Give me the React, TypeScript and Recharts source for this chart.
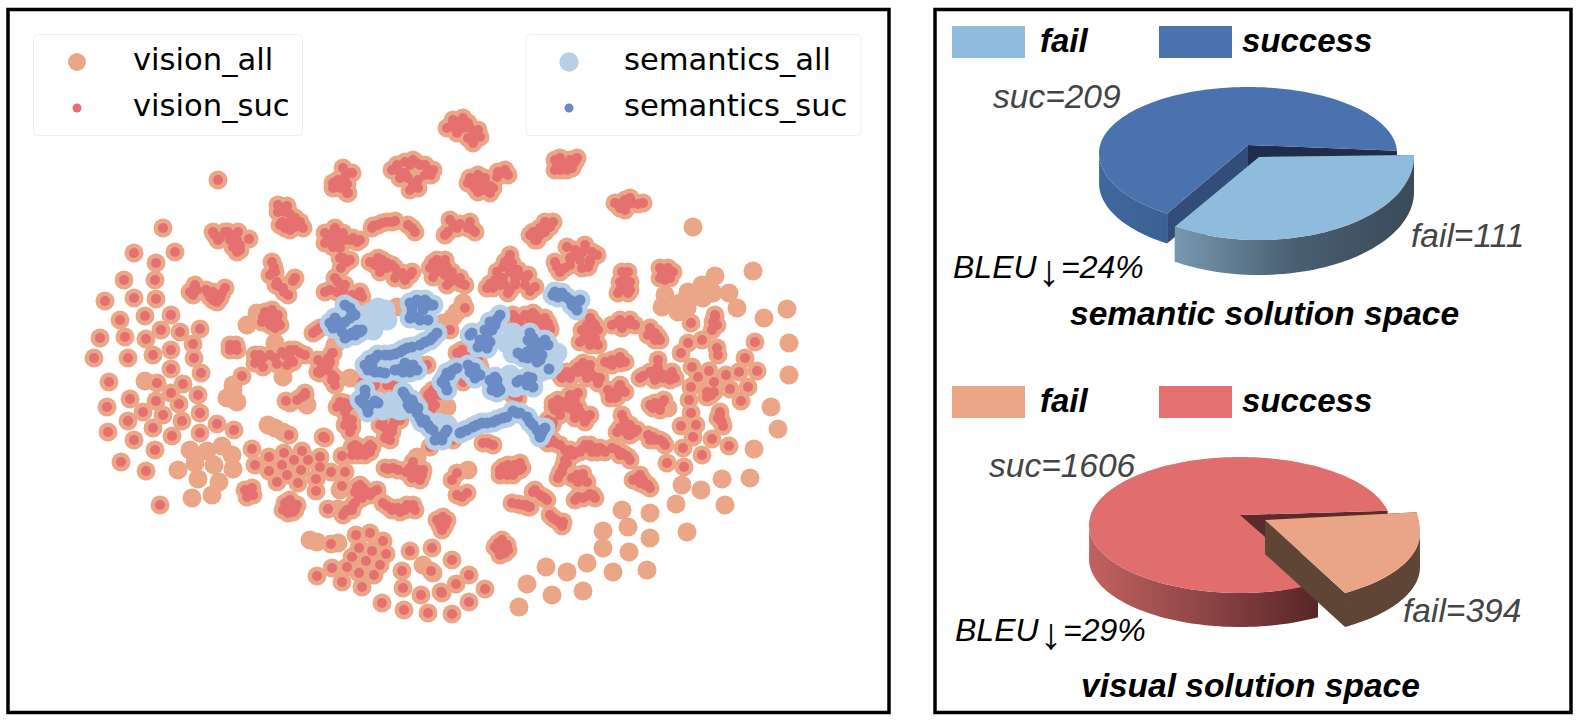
import React from 'react';
import { ScatterChart, Scatter, XAxis, YAxis, PieChart, Pie } from 'recharts';

type Pt = [number, number];

// points that only show the big marker
const visionOnly: Pt[] = [
  [693,227],[715,276],[702,285],[688,292],[713,293],[729,293],[665,295],[662,307],[680,303],[693,297],[678,312],[703,298],[737,308],[687,308],
  [753,271],[787,309],[764,318],[789,343],[145,381],[233,385],[230,398],[237,402],[227,398],[233,390],[190,450],[207,451],[222,446],[232,455],
  [195,463],[214,465],[233,469],[198,479],[219,482],[178,470],[192,498],[212,495],[268,425],[275,428],[283,432],[247,325],[257,313],[283,377],
  [275,343],[310,540],[317,542],[338,543],[423,565],[433,573],[447,407],[457,312],[463,303],[443,323],[453,317],[445,408],[350,378],[307,405],
  [468,470],[668,408],[417,457],[789,375],[771,407],[778,429],[754,449],[750,478],[722,479],[682,485],[701,490],[676,504],[725,505],[687,532],
  [622,510],[650,513],[603,531],[628,527],[650,538],[603,548],[629,552],[647,570],[613,572],[587,563],[567,572],[546,567],[527,584],[552,595],
  [583,591],[519,607],[397,307],[335,345],[300,398],[290,403],[340,490],[338,509],
];

const visionSuc: Pt[] = [
  [218,180],[163,228],[134,253],[175,252],[156,263],[124,280],[155,280],[134,298],[156,299],[105,301],[120,320],[145,316],[171,315],[161,330],
  [180,332],[200,329],[100,338],[125,337],[146,339],[193,344],[171,350],[153,355],[194,358],[128,358],[94,358],
  [347,173],[333,183],[347,184],[347,193],[340,182],[399,171],[410,165],[405,173],[413,183],[428,170],[413,187],[417,163],
  [215,235],[218,240],[234,235],[233,247],[240,250],[249,239],[237,240],[281,208],[285,212],[282,222],[295,218],[285,228],[303,228],[295,227],
  [333,233],[328,238],[338,233],[333,247],[350,240],[357,242],[343,258],[350,260],[341,268],[338,282],[330,290],[343,290],[357,295],[340,240],
  [373,226],[382,223],[387,222],[395,221],[412,228],[375,265],[382,260],[387,263],[392,265],[397,275],[402,273],[410,275],[380,267],
  [433,263],[440,263],[447,267],[433,277],[450,282],[460,283],[442,270],[453,224],[460,224],[473,230],[448,232],
  [450,127],[457,128],[463,118],[468,123],[477,135],[473,137],[453,125],[562,163],[567,170],[575,162],[557,165],
  [477,180],[468,183],[483,182],[478,192],[490,193],[502,173],[473,185],[487,187],[622,203],[627,205],[638,204],[625,200],
  [550,227],[540,228],[533,232],[537,240],[567,247],[573,257],[583,252],[592,252],[580,260],[588,267],[557,267],[565,268],
  [508,260],[503,267],[490,284],[503,278],[510,290],[520,275],[528,275],[530,291],[515,278],[512,263],[665,272],[662,272],[673,272],
  [625,277],[625,285],[620,290],[630,290],[691,323],[715,317],[713,322],[755,342],[688,343],[702,340],[681,353],[717,348],[718,355],[745,358],
  [655,333],[658,337],[617,323],[625,323],[630,324],[593,323],[582,330],[592,332],[583,340],[593,342],[588,338],[547,323],[535,315],[530,315],
  [450,330],[465,308],[516,318],[460,355],[620,357],[316,331],[332,353],[318,360],[325,363],[320,373],[332,380],
  [387,385],[397,387],[375,385],[457,353],[467,357],[463,382],[427,365],[420,365],[432,398],[430,393],
  [513,315],[533,313],[545,325],[548,323],[538,325],[530,320],[518,398],[513,395],[340,402],[347,408],[348,425],[350,427],[305,395],[302,397],[324,437],
  [390,433],[387,435],[397,420],[383,420],[565,375],[572,373],[583,370],[585,373],[578,393],[570,400],[560,402],[553,407],[573,410],[583,415],[552,423],
  [109,382],[130,399],[107,407],[143,412],[128,421],[108,432],[153,428],[134,440],[172,436],[155,450],[121,462],[146,471],[160,505],
  [171,369],[201,373],[157,383],[183,384],[171,393],[198,395],[156,401],[179,404],[163,415],[200,413],[182,421],[200,433],[217,424],[234,430],[242,376],
  [249,493],[250,490],[290,507],[287,508],[293,505],[252,449],[255,465],[269,457],[284,453],[302,451],[294,460],[308,460],[320,457],[282,465],[320,467],
  [269,471],[301,470],[287,475],[277,482],[298,483],[316,479],[316,491],[331,472],[345,472],[342,486],[342,456],[358,447],[355,450],[358,455],[367,448],[370,452],
  [360,485],[358,495],[367,492],[373,492],[328,509],[350,510],[347,510],[353,505],[387,506],[393,508],[405,510],[412,508],
  [393,468],[388,469],[406,472],[413,462],[417,473],[423,470],[418,477],[430,447],[442,518],[441,527],[443,517],
  [356,535],[370,533],[383,541],[359,548],[372,551],[386,554],[352,557],[366,561],[380,565],[347,567],[359,573],[374,575],[332,568],[317,576],[342,582],[362,587],[331,544],
  [410,551],[432,548],[452,560],[402,571],[431,571],[403,588],[441,592],[421,595],[456,584],[382,603],[404,610],[428,613],[452,614],
  [286,401],[297,400],[305,393],[289,435],[325,438],[323,437],[349,423],[352,427],[255,363],[263,367],[277,364],[287,365],[293,362],
  [318,372],[328,367],[327,363],[362,382],[373,387],[392,385],[395,420],[388,433],[392,432],[387,437],[430,400],[432,408],[457,473],[452,480],[457,495],[467,493],[462,497],
  [233,348],[282,352],[290,350],[300,353],[263,358],[317,330],[333,353],[270,315],[263,317],[277,320],[270,325],[268,320],
  [193,290],[193,295],[208,293],[213,292],[217,302],[225,288],[215,295],[274,267],[277,282],[293,281],[284,292],[273,272],
  [692,367],[698,377],[709,371],[714,382],[726,375],[739,372],[757,371],[748,387],[730,389],[741,401],[691,387],[689,400],[709,396],[707,397],[711,395],[691,413],
  [720,415],[720,420],[722,422],[681,426],[696,425],[693,437],[712,439],[683,448],[729,446],[702,455],[667,463],[684,467],
  [643,376],[653,375],[658,367],[667,375],[660,373],[670,380],[613,393],[622,390],[610,395],[617,397],[657,407],[662,403],[653,408],
  [624,420],[620,428],[632,428],[637,430],[630,435],[653,437],[660,440],[663,442],[553,403],[565,402],[575,395],[572,402],[562,407],[575,413],[583,417],[587,418],[553,422],[552,425],
  [548,443],[555,443],[568,453],[565,450],[573,455],[587,448],[582,449],[595,448],[603,450],[600,448],[617,450],[625,455],[622,453],[563,467],[560,473],[577,475],[583,478],[580,480],
  [578,497],[587,496],[593,495],[637,478],[643,480],[648,485],[503,467],[503,473],[512,467],[520,463],[515,472],[518,504],[528,507],[533,492],[543,497],[553,518],[560,523],
  [502,547],[498,543],[505,550],[502,552],[469,575],[485,589],[469,602],[442,593],[488,443],[483,443],[493,445],[453,440],[567,372],[578,367],[590,372],[595,377],[583,363],[615,362],[608,363],[620,363],
  // tight blobs, read cluster by cluster
  [343,168],[352,173],[338,180],[333,188],[340,188],[345,177],[348,193],[392,170],[397,165],[405,162],[413,160],[420,165],[400,178],[408,178],[410,190],[418,188],[418,180],[425,165],[433,170],[431,175],[425,175],
  [453,120],[447,128],[460,122],[457,133],[463,128],[470,128],[478,130],[480,137],[473,143],[468,138],[555,160],[560,158],[570,160],[577,158],[565,165],[572,168],[560,170],[555,170],
  [470,178],[478,175],[485,178],[475,188],[483,190],[493,188],[490,186],[497,177],[505,170],[508,175],[498,172],[615,203],[620,208],[625,210],[632,203],[643,203],[630,198],
  [213,232],[220,238],[228,232],[238,232],[230,240],[240,245],[237,252],[225,232],[278,205],[287,206],[278,212],[290,214],[290,222],[280,225],[300,222],[290,230],
  [325,233],[335,228],[343,233],[325,243],[340,248],[345,240],[353,238],[360,240],[330,240],[338,240],[347,262],[340,258],[345,285],[335,278],[325,292],[337,292],[352,295],[360,292],[362,297],
  [378,225],[392,222],[408,225],[415,232],[372,228],[370,262],[378,258],[395,268],[387,268],[395,278],[405,280],[412,272],[380,272],
  [437,260],[445,260],[430,268],[440,270],[452,272],[455,280],[447,285],[460,278],[465,285],[437,272],[445,275],[450,220],[457,228],[468,228],[475,232],[445,235],[470,222],
  [545,222],[553,222],[545,232],[535,240],[530,235],[540,235],[585,245],[575,250],[590,260],[597,255],[578,252],[570,258],[582,268],[590,262],[555,262],[560,272],[570,265],
  [510,255],[505,262],[497,272],[510,272],[518,270],[525,278],[505,285],[515,285],[525,285],[535,287],[495,280],[487,288],[493,288],[500,285],[508,293],[515,282],
  [660,268],[668,268],[670,278],[660,278],[665,280],[620,282],[630,282],[622,272],[628,272],[618,293],[628,293],[715,315],[717,325],[712,330],[650,328],[652,333],[660,340],[648,335],[655,340],
  [612,325],[620,320],[630,320],[635,325],[622,328],[590,318],[595,325],[587,325],[598,330],[585,335],[595,338],[580,342],[590,345],[598,345],[540,320],[550,328],[540,325],
  [245,490],[253,495],[247,497],[252,488],[285,503],[295,510],[290,500],[297,505],[283,510],[288,513],[293,512],[498,550],[507,545],[495,547],[505,553],[500,555],[508,550],[502,540],
  [352,447],[362,452],[365,455],[372,447],[355,445],[360,450],[370,445],[352,455],[355,492],[362,498],[370,495],[377,490],[363,488],[357,487],[345,512],[352,510],[355,503],[343,515],
  [392,510],[398,508],[400,512],[407,505],[413,505],[415,510],[383,503],[385,468],[398,470],[410,468],[413,470],[422,475],[418,470],[412,478],[420,480],[437,520],[447,520],[440,525],[445,525],[442,530],
  [318,372],[325,370],[332,375],[335,378],[328,358],[322,365],[330,362],[335,385],[558,400],[570,395],[575,400],[578,407],[568,408],[580,412],[590,415],[585,422],[575,418],[555,410],[548,420],[560,415],[547,428],
  [640,378],[650,372],[655,380],[663,378],[672,372],[675,378],[658,360],[656,370],[608,390],[615,398],[620,385],[625,392],[618,388],[610,398],[655,403],[660,410],[650,405],[664,400],
  [622,415],[625,425],[630,425],[635,432],[628,435],[617,432],[626,432],[648,435],[655,440],[665,445],[650,440],[545,440],[552,440],[560,445],[570,450],[575,452],
  [580,452],[590,445],[597,452],[605,452],[585,445],[592,452],[612,448],[620,455],[628,457],[630,460],[565,460],[558,478],[562,472],[567,463],[572,478],[583,474],[578,482],[587,482],
  [575,500],[583,498],[590,494],[595,498],[633,480],[640,475],[645,485],[650,488],[640,483],[500,470],[508,465],[515,465],[522,468],[507,475],[513,475],[520,470],[500,475],
  [512,503],[522,505],[526,505],[530,507],[535,490],[540,495],[545,498],[547,500],[550,515],[556,520],[562,526],[563,522],[605,362],[612,360],[625,362],[620,358],[612,365],
  [560,375],[575,370],[585,368],[590,375],[600,378],[598,383],[720,412],[718,418],[723,426],[707,392],[714,392],[265,312],[272,310],[278,315],[262,322],[275,328],[280,325],
  [190,292],[195,285],[197,290],[206,290],[210,297],[213,300],[220,298],[222,293],[272,262],[275,272],[270,275],[276,285],[280,287],[283,288],[288,295],[295,278],
  [270,355],[260,355],[255,355],[275,358],[285,355],[295,350],[305,355],[290,358],[230,345],[236,345],[230,350],[237,350],[313,333],[320,328],
  [345,403],[337,407],[350,405],[345,412],[347,418],[352,420],[345,425],[350,432],[380,425],[385,428],[392,428],[395,415],[400,420],[393,425],[385,438],[390,440],
  [515,320],[520,322],[525,315],[537,318],[530,325],[545,318],[550,330],[562,378],[570,378],[578,372],[590,365],[587,378],[462,350],[470,360],[473,365],[460,360],[478,360],[480,367],
  [428,395],[433,390],[440,395],[435,405],[430,412],
];

const semanticsOnly: Pt[] = [
  [370,313],[380,313],[387,320],[373,330],[378,308],[513,333],[520,337],[507,343],[513,353],[553,357],[557,353],[508,382],[387,407],[395,408],[412,355],[438,423],
  [375,318],[365,325],[385,310],[360,320],[520,345],[510,345],[553,365],[540,372],[505,385],[515,387],[510,375],[390,402],[383,410],[400,410],[447,425],
];

const semanticsSuc: Pt[] = [
  [350,308],[355,315],[338,322],[330,323],[345,338],[352,333],[360,332],[412,308],[420,303],[428,303],[415,317],[428,320],[412,313],
  [433,337],[425,342],[407,348],[400,352],[390,355],[378,355],[370,360],[368,370],[380,372],[400,369],[407,367],[413,369],
  [553,295],[562,293],[570,300],[578,302],[575,307],[472,333],[497,319],[492,330],[483,345],[490,342],[533,338],[538,343],[548,345],[523,357],[540,360],[533,355],[549,369],
  [453,370],[447,373],[445,385],[472,368],[477,373],[497,380],[498,387],[493,385],[528,377],[520,380],[530,383],
  [365,395],[363,403],[375,401],[368,412],[407,398],[408,405],[413,403],[417,413],[422,422],[428,425],[438,437],[445,433],
  [460,433],[473,427],[482,423],[493,422],[503,418],[517,413],[527,417],[533,425],[542,433],
  [345,305],[350,318],[345,322],[335,318],[333,328],[340,328],[342,332],[348,336],[355,335],[362,330],[357,330],[352,312],[410,303],[417,300],[425,300],[430,305],[423,310],[410,318],[420,320],[413,303],[433,305],
  [437,333],[430,340],[420,345],[412,347],[403,350],[395,354],[385,355],[375,358],[372,365],[365,365],[375,372],[385,373],[395,370],[403,372],[410,372],[405,363],[413,365],[417,370],
  [555,292],[558,297],[566,297],[574,302],[580,300],[577,310],[572,305],[470,335],[500,315],[490,322],[485,330],[495,325],[487,338],[480,340],[478,347],[487,348],[530,333],[528,340],[535,348],[530,350],[542,345],[518,353],[528,358],[537,362],[527,352],[542,355],[545,340],
  [457,368],[450,375],[445,378],[447,390],[442,382],[468,365],[475,368],[480,375],[475,378],[470,372],[495,377],[490,380],[492,390],[500,390],[497,392],[525,380],[532,378],[527,385],[533,387],[517,382],
  [360,400],[365,390],[370,405],[378,403],[367,408],[403,392],[405,395],[412,400],[410,408],[415,408],[420,418],[418,408],[425,420],[430,428],[433,430],[435,440],[442,440],[447,430],
  [462,432],[467,430],[477,425],[487,423],[497,420],[507,417],[513,411],[520,413],[530,422],[537,430],[545,428],[540,437],
];

const sliceNames = ['success', 'fail'];
const semanticCounts = [209, 111];
const visualCounts = [1606, 394];

const COLORS = {
  visionAll: '#eba688',
  visionSuc: '#e4716f',
  semAll: '#b8cfe8',
  semSuc: '#6b8bc4',
};

const toRows = (pts: Pt[]) => pts.map(([x, y]) => ({ x, y }));
const dot = (r: number, fill: string) => (p: any) => <circle cx={p.cx} cy={p.cy} r={r} fill={fill} />;

interface WedgeStyle {
  dx: number; dy: number; grow: number;
  lift: number; // ellipse centre sits this far under the hub
  ryUp: number; ryDown: number; depth: number;
  top: string; startWall: string; endWall: string;
  rim: string[];
  id: string;
}

const semanticStyle: WedgeStyle[] = [
  { dx: 0, dy: 0, grow: 0, lift: 8, ryUp: 66, ryDown: 72, depth: 30, top: '#4a72ae', startWall: '#1f2d4a', endWall: '#334d7a', rim: ['#41689e', '#3b6096'], id: 'semS' },
  { dx: 11, dy: 12, grow: 6, lift: 0, ryUp: 58, ryDown: 83, depth: 35, top: '#8fbbdd', startWall: '#3d4e5e', endWall: '#3d4e5e', rim: ['#7898b0', '#495f72', '#3a4a59'], id: 'semF' },
];

const visualStyle: WedgeStyle[] = [
  { dx: 0, dy: 0, grow: 0, lift: 10, ryUp: 68, ryDown: 68, depth: 34, top: '#e06e6c', startWall: '#5a2a2c', endWall: '#5a2a2c', rim: ['#c26160', '#8e4546', '#582628'], id: 'visS' },
  { dx: 25, dy: 5, grow: 4, lift: 13, ryUp: 100, ryDown: 70, depth: 34, top: '#eaa486', startWall: '#5e4535', endWall: '#5e4535', rim: ['#5e4535', '#5e4535'], id: 'visF' },
];

// tilted slice: recharts hands over the angles, the ellipse and the side walls are worked out here
const wedge = (styles: WedgeStyle[]) => (props: any) => {
  const s = styles[props.index ?? 0];
  const cx = props.cx + s.dx;
  const cy = props.cy + s.dy;
  const rx = props.outerRadius + s.grow;
  const lo = Math.min(props.startAngle, props.endAngle);
  const hi = Math.max(props.startAngle, props.endAngle);
  const at = (deg: number): Pt => {
    const a = (deg * Math.PI) / 180;
    const sin = Math.sin(a);
    return [cx + rx * Math.cos(a), cy + s.lift - sin * (sin > 0 ? s.ryUp : s.ryDown)];
  };
  const angles: number[] = [];
  for (let a = lo; a < hi; a += 2) angles.push(a);
  angles.push(hi);
  const arc = angles.map(at);
  const d = (pts: Pt[]) => 'M' + pts.map((p) => p.join(',')).join('L') + 'Z';
  const lower = angles.filter((a) => Math.sin((a * Math.PI) / 180) < -0.001).map(at);
  const rimPts: Pt[] = [...lower, ...[...lower].reverse().map(([x, y]): Pt => [x, y + s.depth])];
  const wall = (p: Pt): Pt[] => [[cx, cy], p, [p[0], p[1] + s.depth], [cx, cy + s.depth]];
  return (
    <g>
      <defs>
        <linearGradient id={s.id} x1="0" y1="0" x2="1" y2="0">
          {s.rim.map((c, i) => (
            <stop key={i} offset={i / (s.rim.length - 1)} stopColor={c} />
          ))}
        </linearGradient>
      </defs>
      <path d={d(wall(at(lo)))} fill={s.startWall} />
      <path d={d(wall(at(hi)))} fill={s.endWall} />
      {lower.length > 1 && <path d={d(rimPts)} fill={`url(#${s.id})`} />}
      <path d={d([[cx, cy], ...arc])} fill={s.top} />
    </g>
  );
};

const rows = (counts: number[]) => counts.map((value, i) => ({ name: sliceNames[i], value }));

const SANS = '"Liberation Sans", Arial, sans-serif';
const DEJAVU = '"DejaVu Sans", sans-serif';

const ScatterLegend = ({ x, width, textX, dotX, labels, big, small, bigR }: any) => (
  <g>
    <rect x={x} y={34.5} width={width} height={101} rx={4} fill="#fff" fillOpacity={0.8} stroke="#eeeeee" strokeWidth={1} />
    <circle cx={dotX} cy={62} r={bigR} fill={big} />
    <circle cx={dotX} cy={108} r={4.5} fill={small} />
    <text x={textX} y={70} fontFamily={DEJAVU} fontSize={30.6} fill="#000">{labels[0]}</text>
    <text x={textX} y={116} fontFamily={DEJAVU} fontSize={30.6} fill="#000">{labels[1]}</text>
  </g>
);

const PieHeader = ({ y, failFill, sucFill }: any) => (
  <g fontFamily={SANS} fontSize={33} fontWeight="bold" fontStyle="italic" fill="#000">
    <rect x={952} y={y} width={73} height={32} fill={failFill} />
    <rect x={1159} y={y} width={73} height={32} fill={sucFill} />
    <text x={1040} y={y + 26}>fail</text>
    <text x={1242} y={y + 26}>success</text>
  </g>
);

const Bleu = ({ x, y, pct }: any) => (
  <text y={y} fontFamily={SANS} fontSize={32} fontStyle="italic" fill="#000">
    <tspan x={x}>BLEU</tspan>
    <tspan x={x + 85} dy={8} fontSize={44} fontStyle="normal">↓</tspan>
    <tspan x={x + 108} dy={-8}>{pct}</tspan>
  </text>
);

export default function App() {
  return (
    <div style={{ position: 'absolute', left: 0, top: 0, width: 1579, height: 726, background: '#fff', overflow: 'hidden' }}>
      <div style={{ position: 'absolute', left: 0, top: 0 }}>
        <ScatterChart width={900} height={726} margin={{ top: 0, right: 0, bottom: 0, left: 0 }}>
          <XAxis type="number" dataKey="x" domain={[0, 900]} hide />
          <YAxis type="number" dataKey="y" domain={[0, 726]} reversed hide />
          <Scatter data={toRows([...visionOnly, ...visionSuc])} shape={dot(9.5, COLORS.visionAll)} isAnimationActive={false} />
          <Scatter data={toRows(visionSuc)} shape={dot(5, COLORS.visionSuc)} isAnimationActive={false} />
          <Scatter data={toRows([...semanticsOnly, ...semanticsSuc])} shape={dot(10.5, COLORS.semAll)} isAnimationActive={false} />
          <Scatter data={toRows(semanticsSuc)} shape={dot(5.5, COLORS.semSuc)} isAnimationActive={false} />
        </ScatterChart>
      </div>
      <div style={{ position: 'absolute', left: 0, top: 0 }}>
        <PieChart width={1579} height={726} margin={{ top: 0, right: 0, bottom: 0, left: 0 }}>
          <Pie data={rows(semanticCounts)} dataKey="value" nameKey="name" cx={1248} cy={145} innerRadius={0} outerRadius={149}
            startAngle={2} endAngle={362} stroke="none" shape={wedge(semanticStyle)} isAnimationActive={false} />
          <Pie data={rows(visualCounts)} dataKey="value" nameKey="name" cx={1240} cy={515} innerRadius={0} outerRadius={151}
            startAngle={12} endAngle={372} stroke="none" shape={wedge(visualStyle)} isAnimationActive={false} />
        </PieChart>
      </div>
      <svg width={1579} height={726} style={{ position: 'absolute', left: 0, top: 0 }}>
        <rect x={8} y={9.5} width={881} height={703} fill="none" stroke="#000" strokeWidth={3.5} />
        <rect x={935} y={9.5} width={636} height={703} fill="none" stroke="#000" strokeWidth={3.5} />
        <ScatterLegend x={33.5} width={269} textX={133} dotX={77} labels={['vision_all', 'vision_suc']} big={COLORS.visionAll} small={COLORS.visionSuc} bigR={9} />
        <ScatterLegend x={526} width={335} textX={624} dotX={569} labels={['semantics_all', 'semantics_suc']} big={COLORS.semAll} small={COLORS.semSuc} bigR={9.7} />

        <PieHeader y={26} failFill="#8fbbdd" sucFill="#4a72ae" />
        <PieHeader y={386} failFill="#eba688" sucFill="#e4716f" />

        <g fontFamily={SANS} fontSize={33.5} fontStyle="italic" fill="#444">
          <text x={993} y={108}>suc={semanticCounts[0]}</text>
          <text x={1411} y={247}>fail={semanticCounts[1]}</text>
          <text x={989} y={477}>suc={visualCounts[0]}</text>
          <text x={1403} y={622}>fail={visualCounts[1]}</text>
        </g>
        <Bleu x={953} y={278} pct="=24%" />
        <Bleu x={955} y={641} pct="=29%" />
        <g fontFamily={SANS} fontSize={33.5} fontWeight="bold" fontStyle="italic" fill="#000">
          <text x={1070} y={325}>semantic solution space</text>
          <text x={1081} y={697}>visual solution space</text>
        </g>
      </svg>
    </div>
  );
}
